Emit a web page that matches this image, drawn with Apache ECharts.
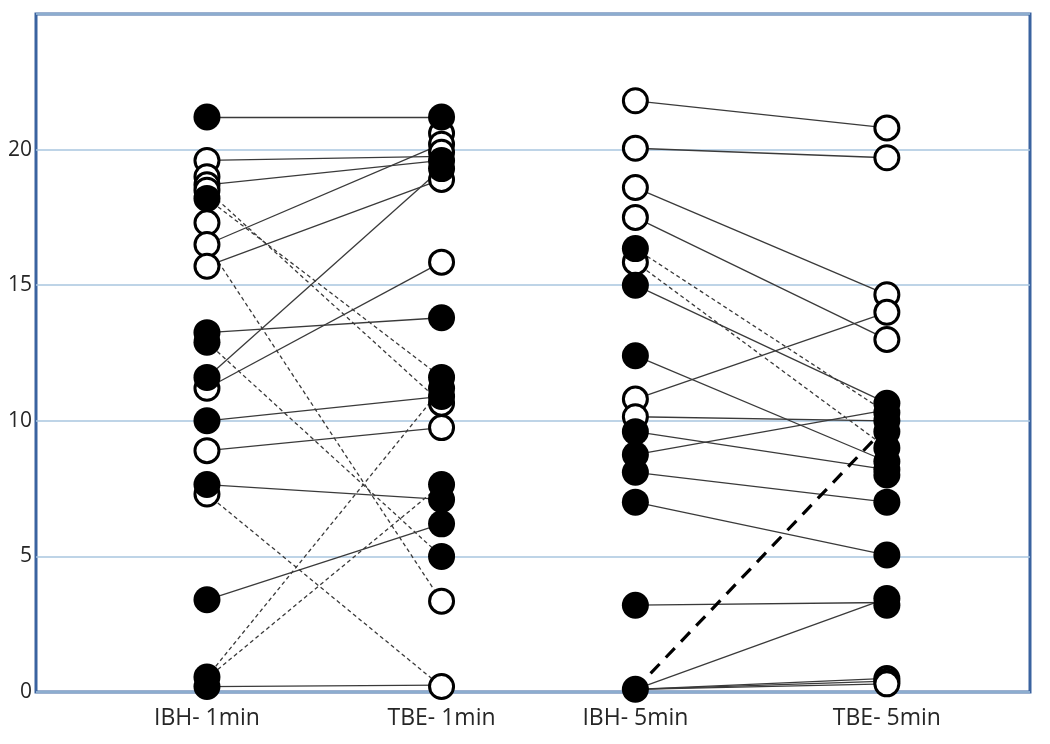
<!DOCTYPE html>
<html>
<head>
<meta charset="utf-8">
<script src="https://cdn.jsdelivr.net/npm/echarts@6/dist/echarts.min.js"></script>
<style>
  html, body { margin: 0; padding: 0; background: #fff; }
  #chart { width: 1050px; height: 744px; }
</style>
</head>
<body>
<div id="chart"></div>
<script>
// column names and where they sit along the x axis (0..100)
var xNames = ['IBH- 1min', 'TBE- 1min', 'IBH- 5min', 'TBE- 5min'];
var xPos = [17.2, 40.8, 60.3, 85.6];
var yTicks = [0, 5, 10, 15, 20];

// markers per column (fill: 1 = filled, 0 = open)
var ibh1Vals = [21.2, 19.6, 19.0, 18.7, 18.5, 18.2, 17.3, 16.5, 15.7, 13.25, 12.9, 11.6, 11.2, 10.0, 8.9, 7.65, 7.3, 3.4, 0.55, 0.2];
var ibh1Fill = [1, 0, 0, 0, 0, 1, 0, 0, 0, 1, 1, 1, 0, 1, 0, 1, 0, 1, 1, 1];
var tbe1Vals = [21.2, 20.6, 20.2, 19.9, 19.6, 19.3, 18.9, 15.85, 13.8, 11.6, 11.2, 10.9, 10.65, 9.75, 7.65, 7.1, 6.2, 5.0, 3.35, 0.2];
var tbe1Fill = [1, 0, 0, 0, 1, 1, 0, 0, 1, 1, 1, 1, 0, 0, 1, 1, 1, 1, 0, 0];
var ibh5Vals = [21.8, 20.05, 18.6, 17.5, 16.35, 15.85, 15.0, 12.4, 10.8, 10.15, 9.6, 8.75, 8.1, 7.0, 3.2, 0.1];
var ibh5Fill = [0, 0, 0, 0, 1, 0, 1, 1, 0, 0, 1, 1, 1, 1, 1, 1];
var tbe5Vals = [20.8, 19.7, 14.65, 14.0, 13.0, 10.65, 10.3, 10.0, 9.6, 9.0, 8.5, 8.2, 8.0, 7.0, 5.05, 3.45, 3.2, 0.5, 0.4, 0.3];
var tbe5Fill = [0, 0, 0, 0, 0, 1, 1, 1, 1, 1, 1, 1, 1, 1, 1, 1, 1, 0, 0, 0];

// connecting lines (s = solid, d = dashed, b = bold dashed)
var link1From = [21.2, 19.6, 18.7, 18.5, 18.2, 16.5, 16.5, 15.7, 13.25, 12.9, 11.6, 11.2, 10.0, 8.9, 7.65, 7.3, 3.4, 0.55, 0.5, 0.2];
var link1To = [21.2, 19.75, 19.6, 10.65, 11.6, 20.2, 3.35, 18.9, 13.8, 5.0, 19.3, 15.85, 10.9, 9.75, 7.1, 0.2, 6.2, 11.2, 7.65, 0.25];
var link1Style = ['s', 's', 's', 'd', 'd', 's', 'd', 's', 's', 'd', 's', 's', 's', 's', 's', 'd', 's', 'd', 'd', 's'];
var link5From = [21.8, 20.05, 18.6, 17.5, 16.35, 15.85, 15.0, 12.4, 10.8, 10.15, 9.6, 8.75, 8.1, 7.0, 3.2, 0.1, 0.1, 0.1, 0.1, 0.1];
var link5To = [20.8, 19.7, 14.65, 13.0, 10.3, 9.0, 10.65, 8.5, 14.0, 10.0, 8.2, 10.4, 7.0, 5.05, 3.3, 3.45, 0.5, 0.4, 0.3, 9.8];
var link5Style = ['s', 's', 's', 's', 'd', 'd', 's', 's', 's', 's', 's', 's', 's', 's', 's', 's', 's', 's', 's', 'b'];

var chart = echarts.init(document.getElementById('chart'));

function points(col, vals, fill, want) {
  var out = [];
  vals.forEach(function (v, i) {
    if (fill[i] === want) out.push([xPos[col], v]);
  });
  return out;
}

function links(c0, c1, from, to, style, want) {
  var out = [];
  from.forEach(function (v, i) {
    if (style[i] === want) out.push({ coords: [[xPos[c0], v], [xPos[c1], to[i]]] });
  });
  return out;
}

var cols = [[ibh1Vals, ibh1Fill], [tbe1Vals, tbe1Fill], [ibh5Vals, ibh5Fill], [tbe5Vals, tbe5Fill]];

var series = [];
var lineStyles = {
  s: { color: '#3a3a3a', width: 1.3, type: 'solid', opacity: 1 },
  d: { color: '#3a3a3a', width: 1.3, type: [4, 3], opacity: 1 },
  b: { color: '#000', width: 3.2, type: [13, 9], opacity: 1 }
};
['s', 'd', 'b'].forEach(function (k) {
  var data = links(0, 1, link1From, link1To, link1Style, k)
    .concat(links(2, 3, link5From, link5To, link5Style, k));
  series.push({
    type: 'lines',
    coordinateSystem: 'cartesian2d',
    polyline: false,
    silent: true,
    z: 2,
    lineStyle: lineStyles[k],
    data: data
  });
});

// open circles first, filled ones drawn over them
cols.forEach(function (c, i) {
  series.push({
    type: 'scatter',
    symbol: 'circle',
    symbolSize: 24,
    z: 3,
    itemStyle: { color: '#fff', borderColor: '#000', borderWidth: 3, opacity: 1 },
    data: points(i, c[0], c[1], 0)
  });
});
cols.forEach(function (c, i) {
  series.push({
    type: 'scatter',
    symbol: 'circle',
    symbolSize: 27,
    z: 4,
    itemStyle: { color: '#000', opacity: 1 },
    data: points(i, c[0], c[1], 1)
  });
});

var option = {
  animation: false,
  backgroundColor: '#fff',
  grid: {
    left: 36, right: 20, top: 14, bottom: 52,
    show: true,
    borderColor: '#3a63a0',
    borderWidth: 3
  },
  xAxis: {
    type: 'value',
    min: 0,
    max: 100,
    splitLine: { show: false },
    axisLine: { show: false },
    axisTick: { show: false },
    axisLabel: {
      customValues: xPos,
      margin: 15,
      fontSize: 23,
      color: '#262626',
      fontFamily: 'Open Sans',
      formatter: function (v) {
        var best = 0;
        xPos.forEach(function (p, i) { if (Math.abs(p - v) < Math.abs(xPos[best] - v)) best = i; });
        return xNames[best];
      }
    }
  },
  yAxis: {
    type: 'value',
    min: 0,
    max: 25,
    interval: 5,
    axisLine: { show: false },
    axisTick: { show: false },
    splitLine: { lineStyle: { color: '#a9c6df', width: 1.5 } },
    axisLabel: {
      customValues: yTicks,
      margin: 4,
      fontSize: 21,
      color: '#262626',
      fontFamily: 'Open Sans'
    }
  },
  series: series
};

chart.setOption(option);
window.addEventListener('resize', function () {
  chart.resize();
});
</script>
</body>
</html>
